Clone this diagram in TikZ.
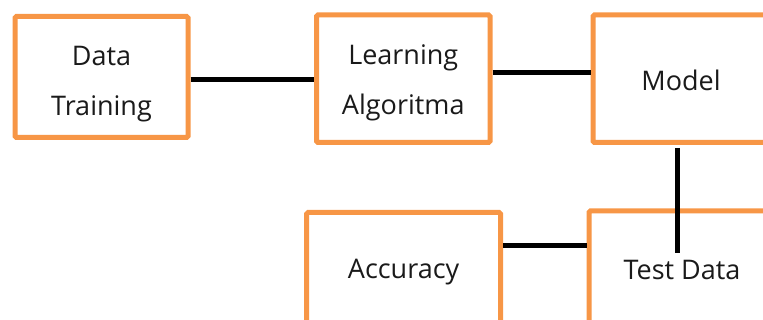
\documentclass[tikz,border=0pt]{standalone}
\usepackage{fontspec}
\setmainfont{Open Sans}
\definecolor{boxorange}{HTML}{F79646}
\definecolor{ink}{HTML}{1A1A1A}
\begin{document}
\begin{tikzpicture}[x=1pt,y=-1pt,
  stagebox/.style={draw=boxorange,line width=5pt,fill=white,rounded corners=1.5pt,inner sep=0pt},
  stagetext/.style={inner sep=0pt,align=center,text=ink,font=\fontsize{27}{50}\selectfont},
  caption/.style 2 args={label={[stagetext,yshift=-#1]center:{#2}}},
  link/.style={line width=5pt,draw=black}]
\useasboundingbox (0,0) rectangle (763,320);
\clip (0,0) rectangle (763,320);

% stages of the workflow
\node[stagebox,minimum width=173pt,minimum height=121pt,caption={7.6pt}{Data\\Training}] (dt) at (101.5,77) {};
\node[stagebox,minimum width=173.5pt,minimum height=127.5pt,caption={4.3pt}{Learning\\Algoritma}] (la) at (403.25,78.75) {};
\node[stagebox,minimum width=176pt,minimum height=127.5pt,caption={1.7pt}{Model}] (model) at (681,78.75) {};
\node[stagebox,minimum width=194pt,minimum height=111.5pt,caption={3.4pt}{Accuracy}] (acc) at (403.6,268.25) {};
\node[stagebox,minimum width=186pt,minimum height=115pt,caption={1pt}{Test Data}] (test) at (682,268.5) {};

% connectors
\draw[link] (dt.east |- 0,80) -- (la.west |- 0,80);
\draw[link] (la.east |- 0,73) -- (model.west |- 0,73);
\draw[link] (acc.east |- 0,246) -- (test.west |- 0,246);
\coordinate (mdown) at (677,148);
\coordinate (tdend) at (677,253);
\draw[link] (mdown) -- (tdend);
\end{tikzpicture}
\end{document}
